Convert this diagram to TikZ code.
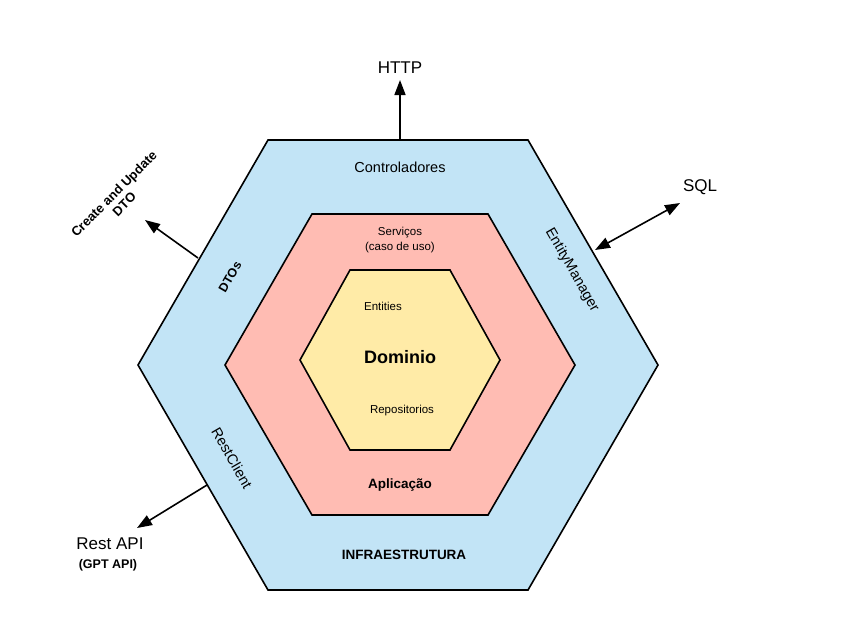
\documentclass[tikz,border=0pt]{standalone}
\usepackage{fontspec}
\setmainfont{Liberation Sans}
\usetikzlibrary{arrows.meta}
\definecolor{infrablue}{RGB}{194,228,246}
\definecolor{appsalmon}{RGB}{255,188,179}
\definecolor{domainyellow}{RGB}{255,235,167}

\begin{document}
\begin{tikzpicture}[
  x=1pt, y=-1pt,
  hexring/.style={draw=black, line width=1.6pt, line join=miter},
  flow/.style={-{Triangle[length=15pt,width=11pt]}, line width=1.6pt},
  biflow/.style={{Triangle[length=15pt,width=11pt]}-{Triangle[length=15pt,width=11pt]}, line width=1.6pt},
  smalltxt/.style={inner sep=0pt, align=center, font=\fontsize{11.5}{15}\selectfont},
  midtxt/.style={inner sep=0pt, align=center, font=\fontsize{14.5}{17}\selectfont},
  bigtxt/.style={inner sep=0pt, align=center, font=\fontsize{17}{20}\selectfont},
  boldtxt/.style={inner sep=0pt, align=center, font=\bfseries\fontsize{13.5}{15}\selectfont}
]
\useasboundingbox (0,0) rectangle (859,638);

% the three layers
\draw[hexring, fill=infrablue] (268,140) -- (528,140) -- (658,365) -- (528,590) -- (268,590) -- (138,365) -- cycle;
\draw[hexring, fill=appsalmon] (312,214) -- (488,214) -- (575,365) -- (488,515) -- (312,515) -- (225,365) -- cycle;
\draw[hexring, fill=domainyellow] (350,270) -- (450,270) -- (500,360) -- (450,450) -- (350,450) -- (300,360) -- cycle;

% texts inside
\node[midtxt] (ctrl) at (400,167) {Controladores};
\node[smalltxt] (serv) at (400,240) {Serviços\\(caso de uso)};
\node[smalltxt] (ent) at (383,306) {Entities};
\node[inner sep=0pt, font=\bfseries\fontsize{18}{20}\selectfont] (dom) at (400,357) {Dominio};
\node[smalltxt] (repo) at (402,411) {Repositorios};
\node[boldtxt] (app) at (400,485) {Aplicação};
\node[boldtxt] (infra) at (404,555) {INFRAESTRUTURA};
\node[boldtxt, font=\bfseries\fontsize{12.5}{15}\selectfont, rotate=60] (dtos) at (230,277) {DTOs};
\node[midtxt, rotate=-60] (em) at (572,270) {EntityManager};
\node[midtxt, rotate=-60] (rc) at (232,458) {RestClient};

% outside
\node[bigtxt] (http) at (400,68) {HTTP};
\node[bigtxt] (sql) at (700,187) {SQL};
\node[bigtxt] (rest) at (110,544) {Rest API};
\node[boldtxt, font=\bfseries\fontsize{12.5}{15}\selectfont] (gpt) at (108,565) {(GPT API)};
\node[inner sep=0pt, align=center, font=\bfseries\fontsize{13}{14.5}\selectfont, rotate=45] (dto) at (119,199) {Create and Update\\DTO};

\coordinate (httpout) at (400,140);
\coordinate (httptip) at (400,80);
\coordinate (dtoout) at (198,258);
\coordinate (dtotip) at (145,220);
\coordinate (sqlout) at (595,250);
\coordinate (sqltip) at (680,203);
\coordinate (restout) at (207,485);
\coordinate (resttip) at (137,528);

\draw[flow] (httpout) -- (httptip);
\draw[flow] (dtoout) -- (dtotip);
\draw[biflow] (sqlout) -- (sqltip);
\draw[flow] (restout) -- (resttip);
\end{tikzpicture}
\end{document}
